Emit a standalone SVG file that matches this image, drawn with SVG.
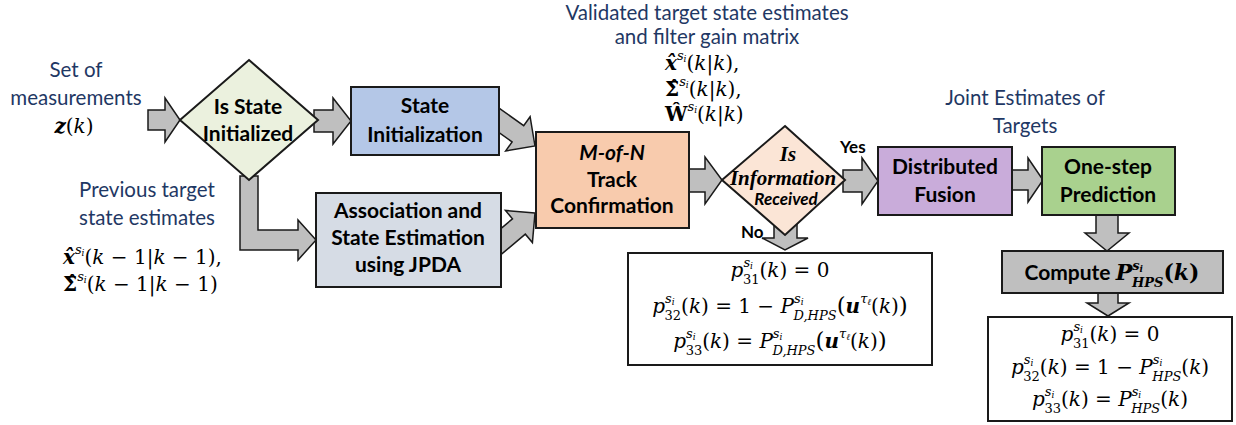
<svg xmlns="http://www.w3.org/2000/svg" width="1236" height="425" viewBox="0 0 1236 425">
<style>
.lbl{font-family:Lato,'Liberation Sans',sans-serif;font-size:20.5px;fill:#1F3864;text-anchor:middle}
.bt{font-family:Lato,'Liberation Sans',sans-serif;font-weight:bold;font-size:21px;fill:#000;text-anchor:middle}
.sm{font-family:Lato,'Liberation Sans',sans-serif;font-weight:bold;font-size:17px;fill:#000}
.m{font-family:'DejaVu Serif','Liberation Serif',serif;font-size:20px;font-style:italic;fill:#000}
.fm{font-family:'DejaVu Serif','Liberation Serif',serif;font-size:20px;font-style:italic;fill:#000;text-anchor:middle}
.dq{font-family:'Liberation Serif','DejaVu Serif',serif;font-weight:bold;font-style:italic;font-size:21px;fill:#000;text-anchor:middle}
.n{font-style:normal}
.b{font-weight:bold}
.box{stroke:#1a1a1a;stroke-width:2}
.arr{fill:#BFBFBF;stroke:#1a1a1a;stroke-width:1.5;stroke-linejoin:miter}
</style>
<defs>
<polygon id="diag" points="0,0 -21,-21 -21,-10 -60,-10 -60,10 -21,10 -21,21"/>
</defs>
<g id="connectors">
<polygon class="arr" points="148,110 165,110 165,98 180,120 165,142 165,130 148,130"/>
<polygon class="arr" points="314,110 333,110 333,98 351,121 333,144 333,132 314,132"/>
<polygon class="arr" points="240,176 258,176 258,230 298,230 298,220 316,240 298,260 298,250 240,250"/>
<use href="#diag" class="arr" transform="translate(535,146) rotate(35.5)"/>
<use href="#diag" class="arr" transform="translate(535,213) rotate(-40)"/>
<polygon class="arr" points="687,169 705,169 705,157 722,180 705,204 705,192 687,192"/>
<polygon class="arr" points="843,170 862,170 862,158 878,181 862,204 862,192 843,192"/>
<polygon class="arr" points="774,220 797,220 797,238 808,238 785,250 762,238 774,238"/>
<polygon class="arr" points="1010,170 1028,170 1028,158 1043,180 1028,202 1028,190 1010,190"/>
<polygon class="arr" points="1096,213 1118,213 1118,233 1129,233 1107,251 1085,233 1096,233"/>
<polygon class="arr" points="1098,291 1118,291 1118,303 1129,303 1108,316 1087,303 1098,303"/>
<text class="sm" x="840" y="153">Yes</text>
<text class="sm" x="741" y="238">No</text>
</g>
<g id="measurements">
<text class="lbl" x="76" y="77">Set of</text>
<text class="lbl" x="76" y="105">measurements</text>
<text class="m" x="74" y="133" text-anchor="middle"><tspan class="b">z</tspan><tspan class="n">(</tspan>k<tspan class="n">)</tspan></text>
</g>
<g id="previous">
<text class="lbl" x="147" y="197">Previous target</text>
<text class="lbl" x="147" y="225">state estimates</text>
<text class="m" x="63" y="264"><tspan class="b">x&#770;</tspan><tspan font-size="13" dy="-10">s</tspan><tspan font-size="9" dy="2">i</tspan><tspan class="n" dy="8">(</tspan>k<tspan class="n"> &#8722; 1|</tspan>k<tspan class="n"> &#8722; 1),</tspan></text>
<text class="m" x="63" y="291"><tspan class="n b">&#931;&#770;</tspan><tspan font-size="13" dy="-10">s</tspan><tspan font-size="9" dy="2">i</tspan><tspan class="n" dy="8">(</tspan>k<tspan class="n"> &#8722; 1|</tspan>k<tspan class="n"> &#8722; 1)</tspan></text>
</g>
<g id="is-state-initialized">
<polygon class="box" fill="#EBF1DE" points="249,60 318,120 249,180 180,120"/>
<text class="bt" x="248" y="114">Is State</text>
<text class="bt" x="248" y="141">Initialized</text>
</g>
<g id="state-initialization">
<rect class="box" fill="#B4C7E7" x="351" y="87" width="148" height="68"/>
<text class="bt" x="425" y="113">State</text>
<text class="bt" x="425" y="142">Initialization</text>
</g>
<g id="association">
<rect class="box" fill="#D6DCE5" x="316" y="193" width="185" height="94"/>
<text class="bt" x="408" y="218">Association and</text>
<text class="bt" x="408" y="245">State Estimation</text>
<text class="bt" x="408" y="272">using JPDA</text>
</g>
<g id="track-confirmation">
<rect class="box" fill="#F8CBAD" x="536" y="132" width="153" height="96"/>
<text class="bt" x="612" y="160" font-style="italic">M-of-N</text>
<text class="bt" x="612" y="187">Track</text>
<text class="bt" x="612" y="213">Confirmation</text>
</g>
<g id="validated">
<text class="lbl" x="707" y="20">Validated target state estimates</text>
<text class="lbl" x="707" y="44">and filter gain matrix</text>
<text class="m" x="665" y="70"><tspan class="b">x&#770;</tspan><tspan font-size="13" dy="-10">s</tspan><tspan font-size="9" dy="2">i</tspan><tspan class="n" dy="8">(</tspan>k<tspan class="n">|</tspan>k<tspan class="n">),</tspan></text>
<text class="m" x="665" y="96"><tspan class="n b">&#931;&#770;</tspan><tspan font-size="13" dy="-10">s</tspan><tspan font-size="9" dy="2">i</tspan><tspan class="n" dy="8">(</tspan>k<tspan class="n">|</tspan>k<tspan class="n">),</tspan></text>
<text class="m" x="665" y="121"><tspan class="n b">&#372;</tspan><tspan font-size="13" dy="-10">s</tspan><tspan font-size="9" dy="2">i</tspan><tspan class="n" dy="8">(</tspan>k<tspan class="n">|</tspan>k<tspan class="n">)</tspan></text>
</g>
<g id="is-information-received">
<polygon class="box" fill="#FBE5D6" points="785,126 845,180 785,235 722,180"/>
<text class="dq" x="788" y="161">Is</text>
<text class="dq" x="783" y="185">Information</text>
<text class="sm" x="786" y="205" font-size="13" font-style="italic" text-anchor="middle">Received</text>
</g>
<g id="no-branch">
<rect class="box" fill="#FFFFFF" x="628" y="253" width="304" height="112" stroke-width="1.5"/>
<text class="fm" x="780" y="277">p<tspan font-size="13" dy="-10">s</tspan><tspan font-size="9" dy="2">i</tspan><tspan class="n" font-size="13" dx="-10" dy="15">31</tspan><tspan class="n" dy="-7">(</tspan>k<tspan class="n">) = 0</tspan></text>
<text class="fm" x="780" y="313">p<tspan font-size="13" dy="-10">s</tspan><tspan font-size="9" dy="2">i</tspan><tspan class="n" font-size="13" dx="-10" dy="15">32</tspan><tspan class="n" dy="-7">(</tspan>k<tspan class="n">) = 1 &#8722; </tspan>P<tspan font-size="13" dy="-10">s</tspan><tspan font-size="9" dy="2">i</tspan><tspan font-size="13" dx="-10" dy="15">D,HPS</tspan><tspan class="n" font-size="23" dy="-7">(</tspan><tspan class="b">u</tspan><tspan font-size="13" dy="-10">τ</tspan><tspan font-size="9" dy="2">ℓ</tspan><tspan class="n" dy="8">(</tspan>k<tspan class="n">)</tspan><tspan class="n" font-size="23">)</tspan></text>
<text class="fm" x="780" y="348">p<tspan font-size="13" dy="-10">s</tspan><tspan font-size="9" dy="2">i</tspan><tspan class="n" font-size="13" dx="-10" dy="15">33</tspan><tspan class="n" dy="-7">(</tspan>k<tspan class="n">) = </tspan>P<tspan font-size="13" dy="-10">s</tspan><tspan font-size="9" dy="2">i</tspan><tspan font-size="13" dx="-10" dy="15">D,HPS</tspan><tspan class="n" font-size="23" dy="-7">(</tspan><tspan class="b">u</tspan><tspan font-size="13" dy="-10">τ</tspan><tspan font-size="9" dy="2">ℓ</tspan><tspan class="n" dy="8">(</tspan>k<tspan class="n">)</tspan><tspan class="n" font-size="23">)</tspan></text>
</g>
<g id="distributed-fusion">
<rect class="box" fill="#C9ACDA" x="878" y="147" width="134" height="68"/>
<text class="bt" x="945" y="174">Distributed</text>
<text class="bt" x="945" y="202">Fusion</text>
</g>
<g id="joint-estimates">
<text class="lbl" x="1025" y="105">Joint Estimates of</text>
<text class="lbl" x="1025" y="133">Targets</text>
</g>
<g id="one-step-prediction">
<rect class="box" fill="#A9D18E" x="1042" y="147" width="133" height="68"/>
<text class="bt" x="1108" y="174">One-step</text>
<text class="bt" x="1108" y="202">Prediction</text>
</g>
<g id="compute">
<rect class="box" fill="#BFBFBF" x="1002" y="251" width="221" height="42"/>
<text class="m b" x="1112" y="280" text-anchor="middle"><tspan class="bt n">Compute </tspan><tspan font-size="22">P</tspan><tspan font-size="13" dy="-10">s</tspan><tspan font-size="9" dy="2">i</tspan><tspan font-size="13" dx="-11" dy="15">HPS</tspan><tspan class="n" font-size="22" dy="-7">(</tspan><tspan font-size="22">k</tspan><tspan class="n" font-size="22">)</tspan></text>
</g>
<g id="hps-branch">
<rect class="box" fill="#FFFFFF" x="988" y="317" width="244" height="104" stroke-width="1.5"/>
<text class="fm" x="1110" y="341">p<tspan font-size="13" dy="-10">s</tspan><tspan font-size="9" dy="2">i</tspan><tspan class="n" font-size="13" dx="-10" dy="15">31</tspan><tspan class="n" dy="-7">(</tspan>k<tspan class="n">) = 0</tspan></text>
<text class="fm" x="1110" y="374">p<tspan font-size="13" dy="-10">s</tspan><tspan font-size="9" dy="2">i</tspan><tspan class="n" font-size="13" dx="-10" dy="15">32</tspan><tspan class="n" dy="-7">(</tspan>k<tspan class="n">) = 1 &#8722; </tspan>P<tspan font-size="13" dy="-10">s</tspan><tspan font-size="9" dy="2">i</tspan><tspan font-size="13" dx="-10" dy="15">HPS</tspan><tspan class="n" dy="-7">(</tspan>k<tspan class="n">)</tspan></text>
<text class="fm" x="1110" y="406">p<tspan font-size="13" dy="-10">s</tspan><tspan font-size="9" dy="2">i</tspan><tspan class="n" font-size="13" dx="-10" dy="15">33</tspan><tspan class="n" dy="-7">(</tspan>k<tspan class="n">) = </tspan>P<tspan font-size="13" dy="-10">s</tspan><tspan font-size="9" dy="2">i</tspan><tspan font-size="13" dx="-10" dy="15">HPS</tspan><tspan class="n" dy="-7">(</tspan>k<tspan class="n">)</tspan></text>
</g>
</svg>
